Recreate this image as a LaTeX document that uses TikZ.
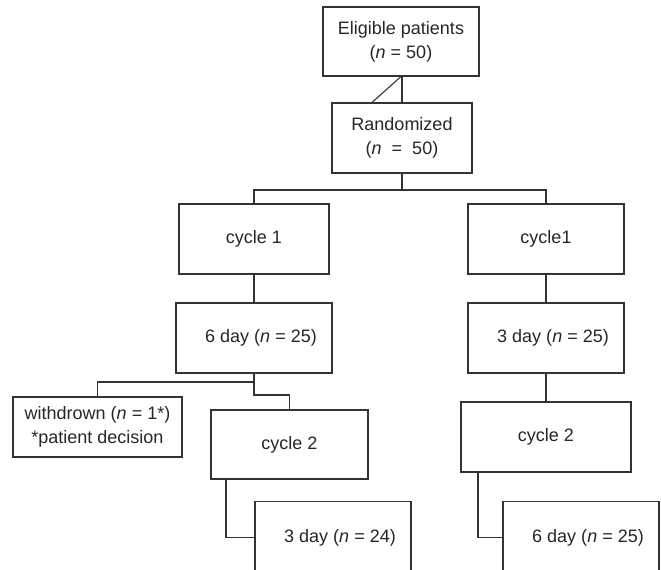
\documentclass[tikz,border=0pt]{standalone}
\usepackage{fontspec}
\setmainfont{Liberation Sans}
\begin{document}
\begin{tikzpicture}[x=1pt,y=-1pt,
  box/.style={draw=black!80, line width=1.1pt, text=black!85, align=center, inner sep=0pt,
    font=\fontsize{18}{24}\selectfont},
  dayshift/.style={execute at begin node={\hspace*{14pt}}},
  conn/.style={draw=black!80, line width=1.1pt}]
\useasboundingbox (0,0) rectangle (661,570);
\clip (0,0) rectangle (661,570);
\node[box, minimum width=156pt, minimum height=69pt] (elig) at (401,41.5) {Eligible patients\\(\textit{n} = 50)};
\node[box, minimum width=140pt, minimum height=70pt] (rand) at (402,138) {Randomized\\(\textit{n}\ \ =\ \ 50)};
\node[box, minimum width=150pt, minimum height=70pt] (c1L) at (254,239) {cycle 1};
\node[box, minimum width=156pt, minimum height=70pt] (c1R) at (546,239) {cycle1};
\node[box, dayshift, minimum width=156pt, minimum height=70pt] (d6L) at (254,338) {6 day (\textit{n} = 25)};
\node[box, dayshift, minimum width=156pt, minimum height=70pt] (d3R) at (546,338) {3 day (\textit{n} = 25)};
\node[box, minimum width=169pt, minimum height=60pt] (wd) at (97.5,427) {withdrown (\textit{n} = 1*)\\*patient decision};
\node[box, minimum width=157pt, minimum height=69pt] (c2L) at (289.5,444.5) {cycle 2};
\node[box, minimum width=170pt, minimum height=70pt] (c2R) at (546,437) {cycle 2};
\node[box, dayshift, minimum width=156pt, minimum height=72pt, anchor=north] (d3L) at (333,501) {3 day (\textit{n} = 24)};
\node[box, dayshift, minimum width=156pt, minimum height=72pt, anchor=north] (d6R) at (581,501) {6 day (\textit{n} = 25)};
% connectors
\coordinate (eb) at ([xshift=1pt]elig.south);
\coordinate (dg) at ([xshift=-30pt]rand.north);
\draw[conn] (eb) -- (rand.north);
\draw[conn] (elig.south) -- (dg);
\coordinate (split1) at (402,190);
\draw[conn] (rand.south) -- (split1);
\draw[conn] (c1L.north) |- (split1) -| (c1R.north);
\draw[conn] (c1L.south) -- (d6L.north);
\draw[conn] (c1R.south) -- (d3R.north);
\coordinate (split2) at (254,382);
\coordinate (step2) at (254,395);
\draw[conn] (d6L.south) -- (split2);
\draw[conn] (split2) -| (wd.north);
\draw[conn] (split2) -- (step2) -| (c2L.north);
\draw[conn] (c1R.south) -- (d3R.north);
\draw[conn] (d3R.south) -- (c2R.north);
\coordinate (c2Lb) at (226,479);
\coordinate (c2Rb) at (478,472);
\draw[conn] (c2Lb) |- (d3L.west);
\draw[conn] (c2Rb) |- (d6R.west);
\end{tikzpicture}
\end{document}
